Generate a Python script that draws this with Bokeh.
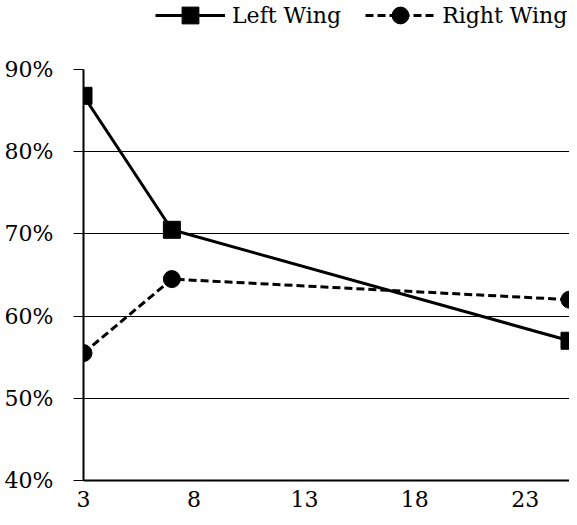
from bokeh.plotting import figure
from bokeh.layouts import column
from bokeh.models import Range1d, FixedTicker, PrintfTickFormatter, Legend, LegendItem
from bokeh.embed import file_html
from bokeh.resources import INLINE

x_vals = [3, 7, 25]
left_wing = [86.8, 70.5, 57.0]
right_wing = [55.5, 64.5, 62.0]
x_ticks = [3, 8, 13, 18, 23]
y_ticks = [40, 50, 60, 70, 80, 90]
series_names = ["Left Wing", "Right Wing"]

FONT = "DejaVu Serif"


def add_series(fig):
    l1 = fig.line(x_vals, left_wing, line_color="black", line_width=3)
    s1 = fig.scatter(x_vals, left_wing, marker="square", size=17, fill_color="black", line_color="black")
    l2 = fig.line(x_vals, right_wing, line_color="black", line_width=3, line_dash="8 4")
    s2 = fig.scatter(x_vals, right_wing, marker="circle", size=17, fill_color="black", line_color="black")
    return (l1, s1), (l2, s2)


# --- legend strip (its own small figure, data kept out of view) ---
top = figure(width=569, height=36, output_backend="svg", toolbar_location=None,
             x_range=Range1d(3, 25), y_range=Range1d(0, 1),
             min_border_left=0, min_border_right=0, min_border_top=0, min_border_bottom=0)
top.axis.visible = False
top.grid.visible = False
top.outline_line_color = None
lr, rr = add_series(top)
legend = Legend(items=[LegendItem(label=series_names[0], renderers=list(lr)),
                       LegendItem(label=series_names[1], renderers=list(rr))],
                orientation="horizontal", location=(72, 0),
                glyph_width=70, glyph_height=42, label_standoff=7, spacing=24,
                padding=0, margin=0, border_line_alpha=0, background_fill_alpha=0,
                label_text_font=FONT, label_text_font_size="22px", label_text_color="black")
top.add_layout(legend)

# --- main chart ---
p = figure(width=569, height=481, output_backend="svg", toolbar_location=None,
           x_range=Range1d(3, 25), y_range=Range1d(40, 90),
           min_border_left=83, min_border_right=0, min_border_top=33, min_border_bottom=37)
p.outline_line_color = None
p.background_fill_color = "white"
p.border_fill_color = "white"
add_series(p)

p.xgrid.visible = False
p.ygrid.grid_line_color = "black"
p.ygrid.grid_line_width = 1
p.ygrid.ticker = FixedTicker(ticks=y_ticks)

p.xaxis.ticker = FixedTicker(ticks=x_ticks)
p.xaxis.axis_line_width = 2
p.xaxis.axis_line_color = "black"
p.xaxis.major_tick_out = 0
p.xaxis.major_tick_in = 0
p.xaxis.minor_tick_line_color = None
p.xaxis.major_label_standoff = 10
p.xaxis.major_label_text_font = FONT
p.xaxis.major_label_text_font_size = "22px"
p.xaxis.major_label_text_color = "black"

p.yaxis.ticker = FixedTicker(ticks=y_ticks)
p.yaxis.formatter = PrintfTickFormatter(format="%d%%")
p.yaxis.axis_line_width = 2
p.yaxis.axis_line_color = "black"
p.yaxis.major_tick_out = 10
p.yaxis.major_tick_in = 0
p.yaxis.major_tick_line_width = 1
p.yaxis.major_tick_line_color = "black"
p.yaxis.minor_tick_line_color = None
p.yaxis.major_label_standoff = 20
p.yaxis.major_label_text_font = FONT
p.yaxis.major_label_text_font_size = "22px"
p.yaxis.major_label_text_color = "black"

layout = column(top, p, spacing=0)
open("out.html", "w").write(file_html(layout, INLINE))
